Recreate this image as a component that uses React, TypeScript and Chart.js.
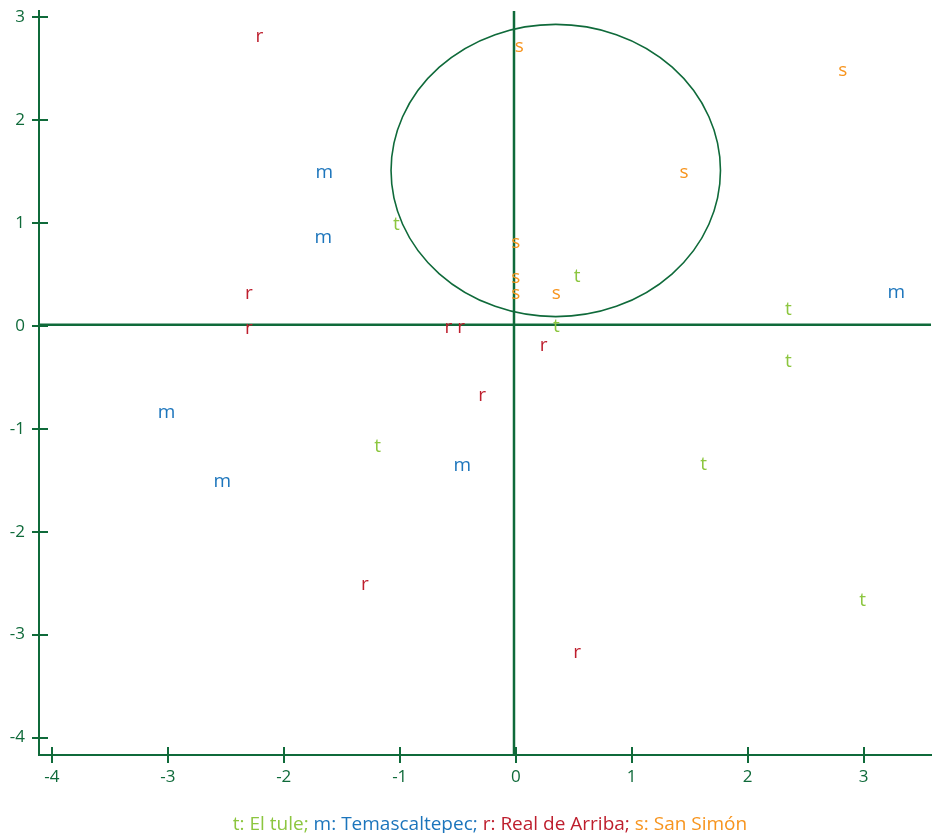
import React, { useEffect, useRef } from 'react';
import { Chart, registerables } from 'chart.js';

Chart.register(...registerables);

// Axis ticks and ranges
const xTicks = [-4, -3, -2, -1, 0, 1, 2, 3];
const yTicks = [-4, -3, -2, -1, 0, 1, 2, 3];
const xMin = -4.11;
const xMax = 3.58;
const yMin = -4.17;
const yMax = 3.06;

// t: El tule
const tX = [-1.03, 0.53, 2.35, 0.35, 2.35, -1.19, 1.62, 2.99];
const tY = [0.98, 0.48, 0.16, -0.01, -0.35, -1.18, -1.35, -2.67];
// m: Temascaltepec
const mX = [-1.65, -1.66, 3.28, -3.01, -0.46, -2.53];
const mY = [1.49, 0.86, 0.32, -0.85, -1.36, -1.52];
// r: Real de Arriba
const rX = [-2.21, -2.3, -2.3, -0.58, -0.47, 0.24, -0.29, -1.3, 0.53];
const rY = [2.81, 0.31, -0.03, -0.02, -0.02, -0.19, -0.68, -2.52, -3.18];
// s: San Simón
const sX = [0.03, 2.82, 1.45, 0.0, 0.0, 0.0, 0.35];
const sY = [2.71, 2.48, 1.49, 0.81, 0.47, 0.31, 0.31];

const seriesLetters = ['t', 'm', 'r', 's'];
const seriesNames = ['El tule', 'Temascaltepec', 'Real de Arriba', 'San Simón'];
const seriesColors = ['#8cc63f', '#1c75bc', '#be1e2d', '#f7941d'];

// Reference lines through (about) the origin
const crossX = -0.015;
const crossY = 0.01;

// Circle (center and radius in data units)
const circleCenterX = 0.345;
const circleCenterY = 1.51;
const circleRadius = 1.42;

const AXIS_COLOR = '#0f6a3a';
const FONT = '"Open Sans", "Noto Sans", sans-serif';

const overlayPlugin = {
  id: 'overlay',
  beforeDatasetsDraw(chart: any) {
    const { ctx, chartArea, scales } = chart;
    const xs = scales.x;
    const ys = scales.y;
    const cx = xs.getPixelForValue(circleCenterX);
    const cy = ys.getPixelForValue(circleCenterY);
    const rx = xs.getPixelForValue(circleCenterX + circleRadius) - cx;
    const ry = cy - ys.getPixelForValue(circleCenterY + circleRadius);
    ctx.save();
    ctx.strokeStyle = AXIS_COLOR;
    ctx.lineWidth = 1.6;
    ctx.beginPath();
    ctx.ellipse(cx, cy, rx, ry, 0, 0, Math.PI * 2);
    ctx.stroke();
    ctx.lineWidth = 2;
    xTicks.forEach((v) => {
      const px = Math.round(xs.getPixelForValue(v));
      ctx.beginPath();
      ctx.moveTo(px, chartArea.bottom - 8);
      ctx.lineTo(px, chartArea.bottom + 8);
      ctx.stroke();
    });
    yTicks.forEach((v) => {
      const py = Math.round(ys.getPixelForValue(v));
      ctx.beginPath();
      ctx.moveTo(chartArea.left - 7, py);
      ctx.lineTo(chartArea.left + 9, py);
      ctx.stroke();
    });
    ctx.restore();
  },
  afterDatasetsDraw(chart: any) {
    const { ctx } = chart;
    const size = 19;
    ctx.save();
    ctx.font = `${size}px ${FONT}`;
    ctx.textAlign = 'center';
    ctx.textBaseline = 'alphabetic';
    chart.data.datasets.forEach((ds: any, i: number) => {
      if (!ds.letter) return;
      const meta = chart.getDatasetMeta(i);
      ctx.fillStyle = ds.letterColor;
      meta.data.forEach((pt: any) => {
        ctx.fillText(ds.letter, pt.x, pt.y + size * 0.27);
      });
    });
    ctx.restore();
  },
  afterDraw(chart: any) {
    const { ctx, chartArea } = chart;
    ctx.save();
    ctx.font = `19px ${FONT}`;
    ctx.textBaseline = 'alphabetic';
    ctx.textAlign = 'left';
    const parts = seriesLetters.map((l, i) => `${l}: ${seriesNames[i]}` + (i < seriesLetters.length - 1 ? '; ' : ''));
    const total = parts.reduce((s, p) => s + ctx.measureText(p).width, 0);
    let x = (chartArea.left + chartArea.right) / 2 - total / 2 + 5;
    parts.forEach((p, i) => {
      ctx.fillStyle = seriesColors[i];
      ctx.fillText(p, x, 830);
      x += ctx.measureText(p).width;
    });
    ctx.restore();
  },
};

const noPad = (s: any) => {
  s.paddingTop = 0;
  s.paddingBottom = 0;
  s.paddingLeft = 0;
  s.paddingRight = 0;
};

export default function App() {
  const ref = useRef<HTMLCanvasElement | null>(null);

  useEffect(() => {
    if (!ref.current) return;
    const xsList = [tX, mX, rX, sX];
    const ysList = [tY, mY, rY, sY];
    const letterSets = seriesLetters.map((l, i) => ({
      label: seriesNames[i],
      letter: l,
      letterColor: seriesColors[i],
      data: xsList[i].map((x, j) => ({ x, y: ysList[i][j] })),
      pointRadius: 0,
      pointHoverRadius: 0,
      showLine: false,
    }));
    const chart = new Chart(ref.current, {
      type: 'scatter',
      data: {
        datasets: [
          {
            label: 'v',
            data: [
              { x: crossX, y: yMin },
              { x: crossX, y: yMax },
            ],
            showLine: true,
            borderColor: AXIS_COLOR,
            borderWidth: 2.5,
            pointRadius: 0,
            clip: false,
          } as any,
          {
            label: 'h',
            data: [
              { x: xMin, y: crossY },
              { x: xMax, y: crossY },
            ],
            showLine: true,
            borderColor: AXIS_COLOR,
            borderWidth: 2.5,
            pointRadius: 0,
            clip: false,
          } as any,
          ...(letterSets as any[]),
        ],
      },
      options: {
        responsive: false,
        animation: false,
        events: [],
        layout: { padding: { top: 11, right: 1, left: 0, bottom: 0 } },
        plugins: {
          legend: { display: false },
          tooltip: { enabled: false },
        },
        scales: {
          x: {
            type: 'linear',
            min: xMin,
            max: xMax,
            afterBuildTicks: (s: any) => {
              s.ticks = xTicks.map((v) => ({ value: v }));
            },
            afterFit: (s: any) => {
              s.height = 78;
              noPad(s);
            },
            grid: { display: false },
            border: { display: true, color: AXIS_COLOR, width: 2 },
            ticks: {
              color: AXIS_COLOR,
              font: { family: FONT, size: 17 },
              padding: 4,
              maxRotation: 0,
              callback: (v: any) => String(v),
            },
          },
          y: {
            type: 'linear',
            min: yMin,
            max: yMax,
            afterBuildTicks: (s: any) => {
              s.ticks = yTicks.map((v) => ({ value: v }));
            },
            afterFit: (s: any) => {
              s.width = 39;
              noPad(s);
            },
            grid: { display: false },
            border: { display: true, color: AXIS_COLOR, width: 2 },
            ticks: {
              color: AXIS_COLOR,
              font: { family: FONT, size: 17 },
              padding: 6,
              callback: (v: any) => String(v),
            },
          },
        },
      },
      plugins: [overlayPlugin],
    });
    return () => chart.destroy();
  }, []);

  return (
    <div style={{ position: 'absolute', left: 0, top: 0, width: 932, height: 833 }}>
      <canvas ref={ref} width={932} height={833} style={{ display: 'block' }} />
    </div>
  );
}
